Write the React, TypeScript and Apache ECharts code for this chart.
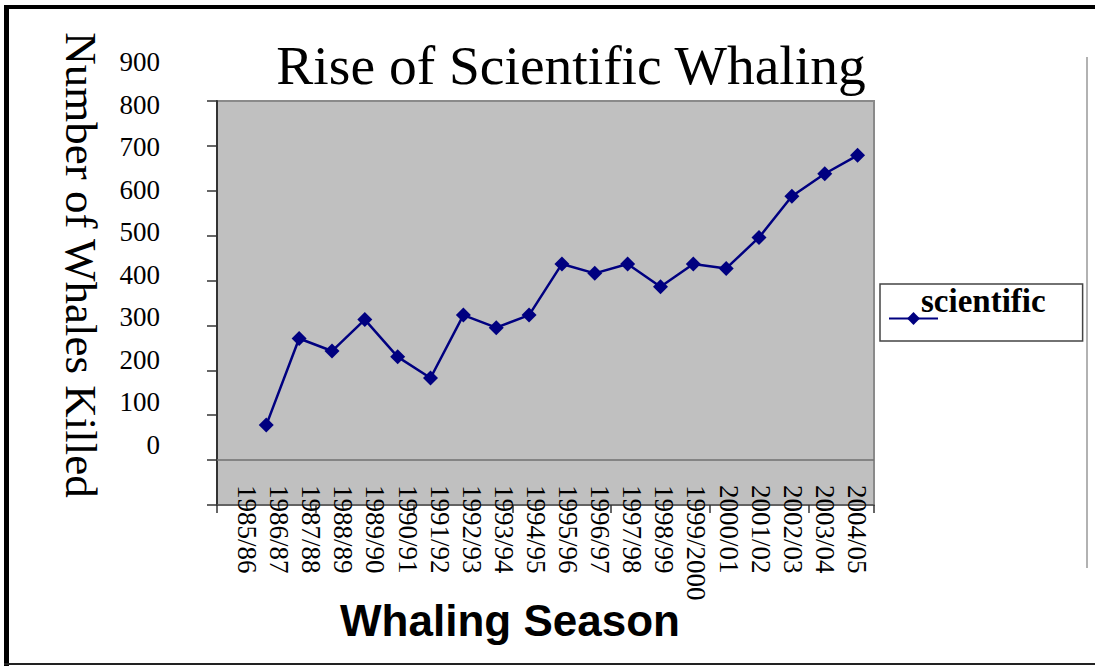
import React, { useEffect, useRef } from "react";
import * as echarts from "echarts";

const categories: string[] = [
  "1985/86", "1986/87", "1987/88", "1988/89", "1989/90", "1990/91", "1991/92",
  "1992/93", "1993/94", "1994/95", "1995/96", "1996/97", "1997/98", "1998/99",
  "1999/2000", "2000/01", "2001/02", "2002/03", "2003/04", "2004/05",
];

const scientific: (number | null)[] = [
  null, 78, 271, 243, 313, 230, 183, 323, 295, 323, 437, 416, 437, 386, 437,
  427, 496, 588, 638, 679,
];

const seriesName = "scientific";
const chartTitle = "Rise of Scientific Whaling";
const yTitle = "Number of Whales Killed";
const xTitle = "Whaling Season";

const SERIF = "'Liberation Serif', 'Times New Roman', serif";
const SANS = "'Liberation Sans', Arial, sans-serif";

export default function App() {
  const ref = useRef<HTMLDivElement>(null);

  useEffect(() => {
    if (!ref.current) return;
    const chart = echarts.init(ref.current, null, { renderer: "svg" });
    chart.setOption({
      animation: false,
      backgroundColor: "#ffffff",
      grid: [
        {
          left: 217, top: 101, width: 657, height: 404,
          show: true, backgroundColor: "#c0c0c0", borderColor: "#8a8a8a", borderWidth: 2,
        },
        { left: 231, top: 62, width: 642, height: 383 },
      ],
      xAxis: [
        {
          gridIndex: 0, type: "category", data: categories, boundaryGap: true,
          axisLine: { show: true, onZero: false, lineStyle: { color: "#555", width: 1.5 } },
          axisTick: { show: true, length: 8, lineStyle: { color: "#333", width: 1.5 } },
          axisLabel: { show: false },
          splitLine: { show: false },
        },
        {
          gridIndex: 1, type: "category", data: categories, boundaryGap: true,
          axisLine: { show: false, onZero: false }, axisTick: { show: false }, splitLine: { show: false },
          axisLabel: {
            show: true, rotate: -90, margin: 40, interval: 0, hideOverlap: false,
            fontFamily: SERIF, fontSize: 27, color: "#000",
          },
        },
      ],
      yAxis: [
        {
          gridIndex: 0, type: "value", min: -100, max: 800, interval: 100,
          axisLine: { show: true, lineStyle: { color: "#333", width: 2 } },
          axisTick: { show: true, length: 10, lineStyle: { color: "#333", width: 1.5 } },
          axisLabel: { show: false },
          splitLine: { show: false },
        },
        {
          gridIndex: 1, type: "value", min: 0, max: 900, interval: 100,
          axisLine: { show: false }, axisTick: { show: false }, splitLine: { show: false },
          axisLabel: { show: true, margin: 71, fontFamily: SERIF, fontSize: 27, color: "#000" },
        },
      ],
      legend: {
        show: true, data: [seriesName], left: 880, top: 284,
        backgroundColor: "#ffffff", borderColor: "#444", borderWidth: 1.5,
        padding: [0, 37, -12, 8],
        itemWidth: 49, itemHeight: 16,
        formatter: "{a|{name}}",
        textStyle: {
          fontFamily: SERIF, fontWeight: "bold", fontSize: 33, color: "#000",
          padding: [0, 0, 0, -22],
          rich: {
            a: {
              fontFamily: SERIF, fontWeight: "bold", fontSize: 33, color: "#000",
              lineHeight: 10, padding: [0, 0, 36, 0],
            },
          },
        },
      },
      graphic: [
        { type: "line", shape: { x1: 4, y1: 7, x2: 1095, y2: 7 }, style: { stroke: "#000", lineWidth: 4 } },
        { type: "line", shape: { x1: 6.5, y1: 5, x2: 6.5, y2: 666 }, style: { stroke: "#000", lineWidth: 5 } },
        { type: "line", shape: { x1: 4, y1: 664, x2: 1095, y2: 664 }, style: { stroke: "#222", lineWidth: 2 } },
        { type: "line", shape: { x1: 1087, y1: 57, x2: 1087, y2: 568 }, style: { stroke: "#999", lineWidth: 1.5 } },
        {
          type: "text", x: 571, y: 65,
          style: { text: chartTitle, fontFamily: SERIF, fontSize: 55.5, fill: "#000", align: "center", verticalAlign: "middle" },
        },
        {
          type: "text", x: 81, y: 265, rotation: -Math.PI / 2,
          style: { text: yTitle, fontFamily: SERIF, fontSize: 45, fill: "#000", align: "center", verticalAlign: "middle" },
        },
        {
          type: "text", x: 510, y: 620,
          style: { text: xTitle, fontFamily: SANS, fontWeight: "bold", fontSize: 44, fill: "#000", align: "center", verticalAlign: "middle" },
        },
      ],
      series: [
        {
          name: seriesName, type: "line", xAxisIndex: 0, yAxisIndex: 0,
          data: scientific, connectNulls: false,
          symbol: "diamond", symbolSize: 15, showSymbol: true,
          lineStyle: { color: "#000080", width: 2.5 },
          itemStyle: { color: "#000080" },
          markLine: {
            silent: true, symbol: ["none", "none"], label: { show: false },
            lineStyle: { color: "#707070", width: 1.5, type: "solid" },
            data: [{ yAxis: 0 }],
          },
        },
      ],
    });
    return () => chart.dispose();
  }, []);

  return (
    <div
      ref={ref}
      style={{ position: "fixed", left: 0, top: 0, width: 1095, height: 666 }}
    />
  );
}
